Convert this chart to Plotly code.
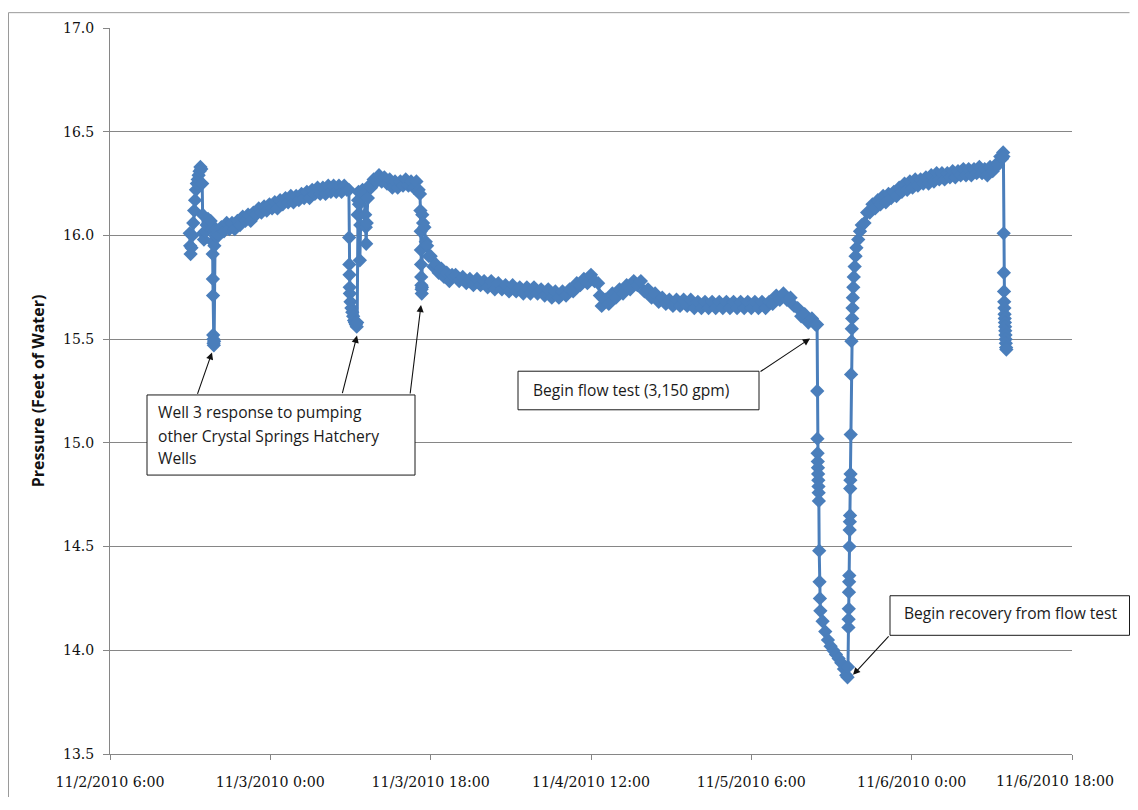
import pandas as pd
import plotly.graph_objects as go

# ---------------- data ----------------
START = "2010-11-02 06:00"

# elapsed hours since START, and pressure (feet of water)
seg_start_hours = [8.95, 9.0, 9.05, 9.15, 9.25, 9.35, 9.45, 9.55, 9.65, 9.75, 9.85, 9.95, 10.05, 10.15,
                   10.25, 10.35, 10.4, 10.45, 10.55, 10.7, 10.85, 11.0, 11.15, 11.3, 11.45, 11.5, 11.53,
                   11.55, 11.57, 11.59, 11.61, 11.63, 11.66, 11.69, 11.72, 11.8]
seg_start_press = [16.01, 15.95, 15.91, 15.94, 16.00, 16.06, 16.12, 16.17, 16.22, 16.25, 16.27, 16.29, 16.31, 16.33,
                   16.32, 16.25, 16.10, 16.01, 15.98, 16.02, 16.05, 16.08, 16.06, 16.07, 16.03, 15.97, 15.91,
                   15.79, 15.71, 15.52, 15.50, 15.48, 15.47, 15.49, 15.95, 16.00]

seg_rise_hours = [11.9, 12.2, 12.5, 12.8, 13.1, 13.4, 13.7, 14.0, 14.3, 14.6, 14.9, 15.2, 15.5, 15.8, 16.1,
                  16.4, 16.7, 17.0, 17.3, 17.6, 17.9, 18.2, 18.5, 18.8, 19.1, 19.4, 19.7, 20.0, 20.3, 20.6,
                  20.9, 21.2, 21.5, 21.8, 22.1, 22.4, 22.7, 23.0, 23.3, 23.6, 23.9, 24.2, 24.5, 24.8, 25.1,
                  25.4, 25.7, 26.0, 26.3, 26.6]
seg_rise_press = [16.03, 16.00, 16.04, 16.02, 16.06, 16.03, 16.06, 16.03, 16.07, 16.05, 16.09, 16.07, 16.10, 16.07, 16.11,
                  16.10, 16.13, 16.11, 16.14, 16.12, 16.15, 16.13, 16.16, 16.13, 16.17, 16.15, 16.18, 16.16, 16.19, 16.16,
                  16.19, 16.17, 16.20, 16.18, 16.21, 16.18, 16.22, 16.20, 16.23, 16.20, 16.23, 16.20, 16.24, 16.21, 16.24,
                  16.21, 16.24, 16.21, 16.24, 16.22]

seg_dips_hours = [26.82, 26.85, 26.87, 26.89, 26.91, 26.93, 27.0, 27.1, 27.2, 27.3, 27.4, 27.5, 27.6, 27.7, 27.75,
                  27.8, 27.85, 27.9, 27.95, 28.0, 28.05, 28.1, 28.2, 28.35, 28.5, 28.65, 28.72, 28.76, 28.82,
                  28.95, 29.1]
seg_dips_press = [16.22, 15.99, 15.86, 15.81, 15.75, 15.72, 15.68, 15.65, 15.63, 15.61, 15.59, 15.58, 15.57, 15.56, 15.58,
                  16.10, 16.17, 16.21, 16.15, 16.10, 15.88, 16.05, 16.18, 16.22, 16.20, 16.10, 16.04, 15.96, 16.06,
                  16.18, 16.24]

seg_plateau_hours = [29.3, 29.6, 29.9, 30.2, 30.5, 30.8, 31.1, 31.4, 31.7, 32.0, 32.3, 32.6, 32.9, 33.2, 33.5,
                     33.8, 34.1, 34.4, 34.65, 34.8]
seg_plateau_press = [16.23, 16.27, 16.26, 16.29, 16.26, 16.28, 16.25, 16.27, 16.23, 16.26, 16.23, 16.26, 16.24, 16.27, 16.24,
                     16.26, 16.23, 16.26, 16.22, 16.20]

seg_decay_hours = [34.85, 34.88, 34.9, 34.92, 34.94, 34.96, 34.98, 35.0, 35.03, 35.06, 35.15, 35.3, 35.45, 35.6,
                   35.8, 36.0, 36.3, 36.6, 36.9, 37.2, 37.5, 37.8, 38.1, 38.4]
seg_decay_press = [16.12, 16.02, 15.93, 15.86, 15.80, 15.76, 15.74, 15.72, 15.75, 16.10, 16.06, 16.04, 15.97, 15.95,
                   15.90, 15.90, 15.85, 15.86, 15.82, 15.84, 15.80, 15.82, 15.78, 15.81]

seg_flat_hours = [38.8, 39.2, 39.6, 40.0, 40.4, 40.8, 41.2, 41.6, 42.0, 42.4, 42.8, 43.2, 43.6, 44.0, 44.4, 44.8,
                  45.2, 45.6, 46.0, 46.4, 46.8, 47.2, 47.6, 48.0, 48.4, 48.8, 49.2, 49.6, 50.0, 50.4, 50.8, 51.2,
                  51.6, 52.0, 52.4, 52.8, 53.2, 53.6, 54.0, 54.4, 54.8, 55.0, 55.2, 55.6, 56.0, 56.4, 56.8, 57.2,
                  57.6, 58.0, 58.4, 58.8, 59.2, 59.6, 60.0, 60.4, 60.8, 61.2, 61.6, 62.0, 62.4, 62.8, 63.2, 63.6,
                  64.0, 64.4, 64.8, 65.2, 65.6, 66.0, 66.4, 66.8, 67.2, 67.6, 68.0, 68.4, 68.8, 69.2, 69.6, 70.0,
                  70.4, 70.8, 71.2, 71.6, 72.0, 72.4, 72.8, 73.2, 73.6, 74.0, 74.4, 74.8, 75.2, 75.6, 76.0, 76.4,
                  76.8, 77.2, 77.6, 78.0, 78.4, 78.8, 79.2]
seg_flat_press = [15.81, 15.78, 15.80, 15.77, 15.79, 15.76, 15.79, 15.76, 15.78, 15.75, 15.78, 15.74, 15.77, 15.74, 15.76, 15.73,
                  15.76, 15.73, 15.75, 15.72, 15.75, 15.72, 15.75, 15.72, 15.74, 15.71, 15.74, 15.70, 15.73, 15.70, 15.73, 15.71,
                  15.74, 15.73, 15.77, 15.76, 15.79, 15.77, 15.81, 15.78, 15.77, 15.71, 15.66, 15.69, 15.67, 15.72, 15.70, 15.74,
                  15.72, 15.76, 15.74, 15.78, 15.76, 15.78, 15.73, 15.74, 15.70, 15.72, 15.68, 15.70, 15.67, 15.69, 15.66, 15.69,
                  15.66, 15.69, 15.66, 15.69, 15.65, 15.68, 15.65, 15.68, 15.65, 15.68, 15.65, 15.68, 15.65, 15.68, 15.65, 15.68,
                  15.65, 15.68, 15.65, 15.68, 15.65, 15.68, 15.65, 15.68, 15.65, 15.68, 15.67, 15.71, 15.69, 15.72, 15.69, 15.70,
                  15.66, 15.65, 15.61, 15.62, 15.58, 15.60, 15.57]

seg_test_hours = [79.38, 79.40, 79.42, 79.44, 79.46, 79.48, 79.50, 79.52, 79.54, 79.56, 79.58, 79.62, 79.66, 79.7,
                  79.75, 80.0, 80.3, 80.6, 80.9, 81.2, 81.5, 81.8, 82.1, 82.4, 82.65, 82.8]
seg_test_press = [15.57, 15.25, 15.02, 14.95, 14.91, 14.88, 14.85, 14.82, 14.79, 14.76, 14.72, 14.48, 14.33, 14.25,
                  14.19, 14.14, 14.09, 14.05, 14.02, 14.00, 13.98, 13.96, 13.94, 13.91, 13.88, 13.87]

seg_recov_hours = [82.85, 82.9, 82.92, 82.94, 82.96, 82.98, 83.0, 83.02, 83.04, 83.06, 83.08, 83.10, 83.12, 83.14,
                   83.16, 83.2, 83.24, 83.28, 83.32, 83.36, 83.4, 83.45, 83.5, 83.6, 83.7, 83.8, 84.0, 84.2, 84.4,
                   84.7, 85.0, 85.3, 85.6, 85.9, 86.2, 86.5, 86.8, 87.1, 87.4, 87.7, 88.0, 88.3, 88.6, 88.9, 89.2,
                   89.5, 89.8, 90.1, 90.4, 90.7, 91.0, 91.3, 91.6, 91.9, 92.2, 92.5, 92.8, 93.1, 93.4, 93.7, 94.0,
                   94.3, 94.6, 94.9, 95.2, 95.5, 95.8, 96.1, 96.4, 96.7, 97.0, 97.3, 97.6, 97.9, 98.2, 98.5, 98.8,
                   99.1, 99.4, 99.7, 99.95, 100.15, 100.27]
seg_recov_press = [13.92, 14.11, 14.15, 14.20, 14.28, 14.33, 14.36, 14.50, 14.58, 14.62, 14.65, 14.78, 14.82, 14.85,
                   15.04, 15.33, 15.49, 15.55, 15.60, 15.65, 15.70, 15.75, 15.80, 15.85, 15.90, 15.94, 15.98, 16.02, 16.05,
                   16.06, 16.11, 16.11, 16.15, 16.13, 16.17, 16.15, 16.19, 16.16, 16.20, 16.18, 16.21, 16.19, 16.23, 16.21, 16.25,
                   16.22, 16.26, 16.23, 16.27, 16.24, 16.27, 16.25, 16.28, 16.25, 16.29, 16.26, 16.30, 16.27, 16.30, 16.27, 16.30,
                   16.28, 16.31, 16.28, 16.31, 16.29, 16.32, 16.29, 16.32, 16.29, 16.32, 16.30, 16.33, 16.30, 16.32, 16.29, 16.33,
                   16.31, 16.34, 16.34, 16.38, 16.37, 16.40]

seg_end_hours = [100.3, 100.33, 100.35, 100.37, 100.39, 100.41, 100.43, 100.45, 100.47, 100.49, 100.51, 100.53,
                 100.55, 100.57, 100.6, 100.63]
seg_end_press = [16.38, 16.01, 15.82, 15.73, 15.68, 15.65, 15.62, 15.60, 15.58, 15.56, 15.54, 15.52,
                 15.50, 15.48, 15.46, 15.45]

tick_times = ["2010-11-02 06:00", "2010-11-03 00:00", "2010-11-03 18:00", "2010-11-04 12:00",
              "2010-11-05 06:00", "2010-11-06 00:00", "2010-11-06 18:00"]
tick_labels = ["11/2/2010 6:00", "11/3/2010 0:00", "11/3/2010 18:00", "11/4/2010 12:00",
               "11/5/2010 6:00", "11/6/2010 0:00", "11/6/2010 18:00"]

y_title = "Pressure (Feet of Water)"
note_wells = ["Well 3 response to pumping", "other Crystal Springs Hatchery", "Wells"]
note_test = "Begin flow test (3,150 gpm)"
note_recovery = "Begin recovery from flow test"

# ---------------- assemble ----------------
hours = (seg_start_hours + seg_rise_hours + seg_dips_hours + seg_plateau_hours + seg_decay_hours +
         seg_flat_hours + seg_test_hours + seg_recov_hours + seg_end_hours)
press = (seg_start_press + seg_rise_press + seg_dips_press + seg_plateau_press + seg_decay_press +
         seg_flat_press + seg_test_press + seg_recov_press + seg_end_press)
times = pd.Timestamp(START) + pd.to_timedelta(hours, unit="h")

BLUE = "#4A7EBB"
GRID = "#868686"

fig = go.Figure(go.Scatter(
    x=times, y=press, mode="lines+markers",
    line=dict(color=BLUE, width=3),
    marker=dict(symbol="diamond", size=11, color=BLUE),
    showlegend=False,
))

# page body has an 8px margin: figure origin sits at screen (8, 8); keep page within the window
OFF = 8
W, H = 1138 - 2 * OFF, 810 - 2 * OFF
L, R, T, B = 110, 1072, 24, 758          # plot area in screen pixels


def px(xp):
    return (xp - L) / (R - L)


def py(yp):
    return (B - yp) / (B - T)


# outer chart border: only top and left edges are inside the picture
shapes = [
    dict(type="line", xref="paper", yref="paper", x0=px(8.5), x1=px(1129.5), y0=py(8.5), y1=py(8.5),
         line=dict(color="#9a9a9a", width=1), layer="below"),
    dict(type="line", xref="paper", yref="paper", x0=px(8.5), x1=px(8.5), y0=py(8.5), y1=py(801.5),
         line=dict(color="#9a9a9a", width=1), layer="below"),
]
boxes = [(147, 395, 415, 476), (518, 371, 759, 410), (890, 598, 1129.5, 638)]
for (x0, y0, x1, y1) in boxes:
    shapes.append(dict(type="rect", xref="paper", yref="paper", x0=px(x0), x1=px(x1), y0=py(y1), y1=py(y0),
                       line=dict(color="#1a1a1a", width=1), fillcolor="white", layer="above"))

TXT = dict(family="Open Sans, sans-serif", size=15.6, color="#1a1a1a")
TICKX = dict(family="DejaVu Serif, serif", size=14.2, color="#111111")
annotations = []
for line, yc in zip(note_wells, [412, 436, 459]):
    annotations.append(dict(xref="paper", yref="paper", x=px(156), y=py(yc), text=line, showarrow=False,
                            xanchor="left", yanchor="middle", font=TXT))
annotations.append(dict(xref="paper", yref="paper", x=px(531), y=py(390), text=note_test, showarrow=False,
                        xanchor="left", yanchor="middle", font=TXT))
annotations.append(dict(xref="paper", yref="paper", x=px(902), y=py(615), text=note_recovery, showarrow=False,
                        xanchor="left", yanchor="middle", font=TXT))
# last x label is kept inside the picture edge (drawn as text next to its tick)
annotations.append(dict(xref="paper", yref="paper", x=px(1116), y=py(785), text=tick_labels[-1], showarrow=False,
                        xanchor="right", yanchor="middle", font=TICKX))

arrows = [((197, 395), (212, 352)), ((342, 394), (357, 335)), ((410, 394), (421, 304)),
          ((759, 372), (810, 338)), ((890, 638), (853, 678))]
for (tail, tip) in arrows:
    annotations.append(dict(xref="paper", yref="paper", x=px(tip[0]), y=py(tip[1]), text="",
                            showarrow=True, ax=tail[0] - tip[0], ay=tail[1] - tip[1],
                            arrowhead=2, arrowsize=1.3, arrowwidth=1.1, arrowcolor="#111111", standoff=0))

fig.update_layout(
    width=W, height=H,
    margin=dict(l=L - OFF, r=W - (R - OFF), t=T - OFF, b=H - (B - OFF), pad=0),
    paper_bgcolor="white", plot_bgcolor="white",
    shapes=shapes, annotations=annotations,
    xaxis=dict(
        type="date", range=[tick_times[0], tick_times[-1]],
        tickmode="array", tickvals=tick_times, ticktext=tick_labels[:-1] + [""],
        showgrid=False, zeroline=False, showline=True, linecolor=GRID, linewidth=1,
        ticks="outside", ticklen=5, tickcolor=GRID,
        tickfont=TICKX, ticklabelstandoff=10,
    ),
    yaxis=dict(
        range=[13.5, 17.0], dtick=0.5, tick0=13.5, tickformat=".1f",
        showgrid=True, gridcolor=GRID, gridwidth=1, zeroline=False,
        showline=True, linecolor=GRID, linewidth=1,
        ticks="outside", ticklen=6, tickcolor=GRID,
        tickfont=dict(family="DejaVu Serif, serif", size=14, color="#111111"), ticklabelstandoff=6,
        title=dict(text="<b>" + y_title + "</b>",
                   font=dict(family="Open Sans, sans-serif", size=16, color="#111111"), standoff=14),
    ),
)

fig.write_html("out.html")
